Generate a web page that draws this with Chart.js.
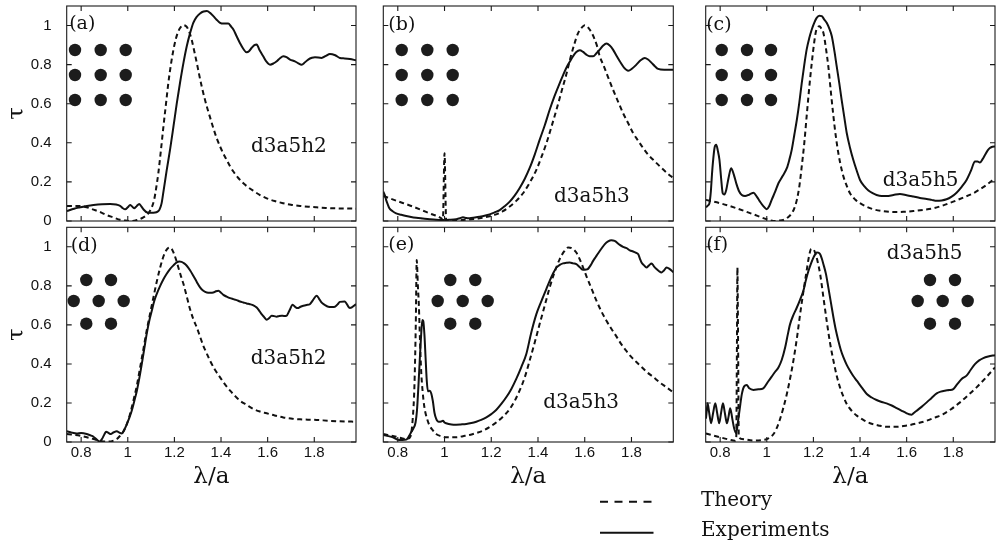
<!DOCTYPE html>
<html><head><meta charset="utf-8">
<script src="https://cdn.jsdelivr.net/npm/chart.js@4.4.1/dist/chart.umd.min.js"></script>
<style>
html,body{margin:0;padding:0;background:#fff;}
#wrap{position:relative;width:997px;height:545px;overflow:hidden;background:#fff;}
#wrap canvas{position:absolute;left:0;top:0;}
</style></head><body><div id="wrap"></div>
<script>
// ---------------- data ----------------
const xTickValues = [0.8, 1, 1.2, 1.4, 1.6, 1.8];
const xTickLabels = ['0.8', '1', '1.2', '1.4', '1.6', '1.8'];
const yTickValues = [0, 0.2, 0.4, 0.6, 0.8, 1];
const yTickLabels = ['0', '0.2', '0.4', '0.6', '0.8', '1'];
const panelLabels = ['(a)', '(b)', '(c)', '(d)', '(e)', '(f)'];
const sampleNames = ['d3a5h2', 'd3a5h3', 'd3a5h5', 'd3a5h2', 'd3a5h3', 'd3a5h5'];
const legendLabels = ['Theory', 'Experiments'];
const xAxisTitle = 'λ/a';
const yAxisTitle = 'τ';

// (a)
const aExpX = [0.739,0.77,0.796,0.825,0.853,0.89,0.924,0.95,0.967,0.978,0.989,1.0,1.01,1.018,1.027,1.038,1.049,1.058,1.067,1.084,1.1,1.117,1.128,1.136,1.145,1.153,1.167,1.182,1.196,1.21,1.224,1.239,1.253,1.267,1.281,1.296,1.31,1.325,1.339,1.353,1.367,1.381,1.396,1.41,1.431,1.443,1.453,1.467,1.481,1.496,1.51,1.52,1.531,1.543,1.553,1.565,1.581,1.595,1.61,1.625,1.639,1.653,1.667,1.681,1.696,1.717,1.73,1.746,1.76,1.774,1.79,1.803,1.831,1.85,1.867,1.89,1.91,1.93,1.953,1.979];
const aExpY = [0.051,0.063,0.07,0.077,0.082,0.086,0.087,0.084,0.077,0.066,0.06,0.07,0.082,0.075,0.065,0.076,0.087,0.075,0.06,0.043,0.042,0.043,0.048,0.058,0.09,0.15,0.26,0.37,0.484,0.6,0.706,0.81,0.894,0.96,1.014,1.045,1.062,1.072,1.074,1.065,1.048,1.03,1.014,1.01,1.01,0.995,0.98,0.945,0.911,0.88,0.863,0.868,0.885,0.9,0.903,0.875,0.843,0.815,0.8,0.806,0.817,0.833,0.843,0.838,0.826,0.817,0.808,0.8,0.812,0.826,0.835,0.838,0.834,0.845,0.855,0.848,0.834,0.832,0.829,0.822];
const aThX = [0.739,0.796,0.824,0.853,0.881,0.91,0.939,0.967,0.99,1.017,1.04,1.06,1.075,1.089,1.103,1.113,1.122,1.131,1.142,1.153,1.164,1.174,1.185,1.196,1.207,1.217,1.228,1.239,1.248,1.256,1.265,1.274,1.285,1.296,1.306,1.317,1.328,1.339,1.353,1.367,1.381,1.396,1.41,1.424,1.438,1.453,1.474,1.496,1.517,1.539,1.567,1.596,1.63,1.667,1.7,1.739,1.775,1.81,1.85,1.881,1.93,1.979];
const aThY = [0.077,0.077,0.07,0.058,0.046,0.03,0.018,0.006,0.002,0.0,0.005,0.014,0.025,0.04,0.07,0.108,0.17,0.244,0.36,0.484,0.6,0.706,0.8,0.877,0.935,0.971,0.993,1.002,0.998,0.988,0.963,0.928,0.87,0.809,0.75,0.689,0.635,0.586,0.53,0.475,0.425,0.381,0.345,0.313,0.282,0.253,0.22,0.193,0.172,0.154,0.133,0.116,0.102,0.091,0.083,0.077,0.073,0.07,0.067,0.065,0.064,0.063];

// (b)
const bExpX = [0.738,0.745,0.75,0.757,0.764,0.778,0.793,0.815,0.836,0.857,0.879,0.907,0.936,0.964,0.993,1.02,1.05,1.065,1.079,1.093,1.107,1.13,1.15,1.171,1.193,1.214,1.236,1.257,1.279,1.3,1.321,1.343,1.364,1.386,1.407,1.429,1.45,1.471,1.493,1.507,1.521,1.536,1.55,1.564,1.579,1.593,1.607,1.621,1.636,1.65,1.664,1.679,1.693,1.707,1.721,1.736,1.75,1.768,1.786,1.803,1.821,1.839,1.857,1.871,1.886,1.9,1.914,1.94,1.979];
const bExpY = [0.15,0.13,0.108,0.085,0.065,0.05,0.039,0.032,0.026,0.021,0.017,0.013,0.009,0.006,0.005,0.006,0.009,0.014,0.019,0.015,0.014,0.018,0.022,0.027,0.034,0.044,0.056,0.075,0.099,0.13,0.168,0.215,0.27,0.34,0.415,0.49,0.569,0.64,0.706,0.745,0.783,0.815,0.843,0.865,0.874,0.865,0.851,0.843,0.843,0.858,0.877,0.898,0.908,0.898,0.877,0.845,0.817,0.785,0.769,0.78,0.8,0.822,0.834,0.826,0.809,0.792,0.778,0.774,0.774];
const bThX = [0.738,0.793,0.864,0.936,0.986,0.993,1.0,1.007,1.036,1.079,1.15,1.221,1.25,1.279,1.307,1.336,1.364,1.393,1.414,1.436,1.457,1.479,1.5,1.521,1.54,1.557,1.571,1.586,1.6,1.611,1.621,1.632,1.643,1.654,1.664,1.679,1.693,1.707,1.721,1.743,1.764,1.786,1.807,1.829,1.85,1.871,1.893,1.921,1.95,1.979];
const bThY = [0.128,0.104,0.074,0.039,0.014,0.006,0.347,0.005,0.002,0.005,0.014,0.034,0.05,0.074,0.103,0.142,0.195,0.262,0.325,0.398,0.48,0.569,0.66,0.749,0.84,0.911,0.96,0.988,1.002,0.995,0.98,0.958,0.928,0.89,0.843,0.8,0.757,0.714,0.672,0.61,0.552,0.5,0.45,0.41,0.373,0.34,0.313,0.28,0.248,0.219];

// (c)
const cExpX = [0.739,0.743,0.748,0.754,0.76,0.765,0.769,0.776,0.783,0.79,0.797,0.804,0.811,0.818,0.826,0.836,0.847,0.858,0.869,0.88,0.893,0.907,0.921,0.932,0.943,0.957,0.971,0.986,1.0,1.01,1.021,1.036,1.05,1.068,1.086,1.096,1.107,1.118,1.129,1.14,1.15,1.161,1.171,1.182,1.193,1.204,1.214,1.225,1.236,1.246,1.257,1.268,1.279,1.29,1.3,1.311,1.321,1.332,1.343,1.357,1.371,1.386,1.4,1.418,1.436,1.454,1.471,1.493,1.514,1.543,1.571,1.6,1.629,1.657,1.686,1.707,1.729,1.75,1.771,1.793,1.814,1.836,1.857,1.875,1.893,1.904,1.914,1.925,1.936,1.947,1.957,1.968,1.979];
const cExpY = [0.07,0.074,0.08,0.091,0.15,0.24,0.3,0.375,0.39,0.36,0.313,0.22,0.142,0.135,0.159,0.22,0.27,0.24,0.193,0.155,0.133,0.128,0.133,0.14,0.145,0.125,0.099,0.075,0.06,0.075,0.108,0.15,0.193,0.23,0.27,0.31,0.364,0.44,0.518,0.61,0.706,0.8,0.877,0.935,0.98,1.015,1.039,1.05,1.048,1.032,1.014,0.985,0.945,0.87,0.791,0.705,0.621,0.535,0.45,0.375,0.313,0.257,0.21,0.178,0.156,0.142,0.133,0.128,0.128,0.133,0.138,0.132,0.125,0.118,0.113,0.108,0.103,0.105,0.111,0.125,0.145,0.175,0.21,0.255,0.304,0.305,0.299,0.315,0.338,0.36,0.373,0.38,0.381];
const cThX = [0.739,0.8,0.871,0.943,1.0,1.029,1.05,1.071,1.09,1.107,1.118,1.129,1.14,1.15,1.161,1.171,1.182,1.193,1.203,1.211,1.218,1.226,1.234,1.243,1.253,1.264,1.275,1.286,1.296,1.307,1.318,1.329,1.343,1.357,1.379,1.4,1.429,1.457,1.5,1.543,1.586,1.629,1.671,1.714,1.757,1.8,1.843,1.886,1.914,1.943,1.979];
const cThY = [0.108,0.091,0.065,0.034,0.009,0.0,0.002,0.005,0.018,0.039,0.065,0.108,0.18,0.279,0.4,0.535,0.68,0.809,0.91,0.971,0.99,0.997,0.985,0.962,0.89,0.791,0.66,0.535,0.435,0.347,0.28,0.227,0.18,0.142,0.11,0.091,0.073,0.06,0.05,0.046,0.047,0.051,0.057,0.065,0.08,0.099,0.12,0.142,0.162,0.185,0.219];

// (d)
const dExpX = [0.739,0.76,0.781,0.8,0.824,0.84,0.853,0.867,0.879,0.889,0.9,0.907,0.917,0.927,0.94,0.953,0.964,0.974,0.986,0.996,1.007,1.017,1.028,1.039,1.05,1.06,1.071,1.081,1.092,1.103,1.113,1.124,1.139,1.153,1.167,1.181,1.196,1.21,1.221,1.231,1.242,1.253,1.267,1.281,1.296,1.31,1.324,1.339,1.353,1.367,1.378,1.389,1.4,1.41,1.424,1.439,1.453,1.467,1.481,1.496,1.51,1.524,1.539,1.553,1.564,1.574,1.585,1.596,1.607,1.617,1.628,1.639,1.65,1.66,1.67,1.681,1.694,1.707,1.718,1.729,1.741,1.753,1.767,1.781,1.795,1.81,1.82,1.831,1.845,1.86,1.875,1.889,1.9,1.91,1.93,1.953,1.979];
const dExpY = [0.055,0.048,0.044,0.046,0.041,0.034,0.027,0.012,0.003,0.015,0.04,0.053,0.047,0.041,0.05,0.055,0.048,0.044,0.065,0.092,0.125,0.16,0.21,0.263,0.33,0.399,0.48,0.553,0.62,0.672,0.72,0.758,0.8,0.834,0.862,0.886,0.905,0.92,0.925,0.923,0.915,0.903,0.88,0.852,0.82,0.792,0.775,0.766,0.765,0.766,0.772,0.775,0.765,0.754,0.745,0.737,0.732,0.727,0.72,0.715,0.71,0.706,0.7,0.689,0.672,0.655,0.64,0.626,0.635,0.647,0.645,0.642,0.646,0.647,0.646,0.647,0.675,0.703,0.692,0.686,0.693,0.698,0.702,0.706,0.728,0.749,0.735,0.715,0.702,0.693,0.692,0.693,0.705,0.718,0.72,0.686,0.706];
const dThX = [0.739,0.796,0.853,0.88,0.896,0.92,0.939,0.953,0.967,0.982,0.996,1.01,1.024,1.039,1.053,1.067,1.081,1.096,1.11,1.124,1.139,1.15,1.16,1.17,1.179,1.188,1.196,1.207,1.217,1.228,1.239,1.253,1.267,1.281,1.296,1.31,1.324,1.339,1.353,1.374,1.396,1.417,1.439,1.46,1.481,1.51,1.539,1.567,1.596,1.63,1.667,1.7,1.739,1.78,1.81,1.86,1.91,1.979];
const dThY = [0.041,0.032,0.015,0.006,0.003,0.002,0.007,0.015,0.032,0.055,0.092,0.145,0.212,0.29,0.382,0.476,0.57,0.66,0.741,0.82,0.894,0.94,0.971,0.99,0.997,0.99,0.971,0.935,0.894,0.85,0.809,0.745,0.681,0.63,0.587,0.54,0.493,0.453,0.416,0.37,0.331,0.295,0.263,0.236,0.212,0.19,0.169,0.156,0.147,0.136,0.126,0.12,0.116,0.114,0.113,0.109,0.106,0.104];

// (e)
const eExpX = [0.738,0.76,0.779,0.807,0.82,0.836,0.848,0.857,0.867,0.876,0.882,0.888,0.894,0.9,0.905,0.909,0.914,0.919,0.924,0.929,0.936,0.943,0.95,0.957,0.964,0.975,0.986,0.993,1.0,1.007,1.03,1.05,1.07,1.093,1.115,1.136,1.157,1.179,1.2,1.221,1.243,1.264,1.286,1.307,1.329,1.35,1.371,1.393,1.407,1.421,1.436,1.45,1.464,1.479,1.493,1.507,1.521,1.536,1.55,1.564,1.579,1.593,1.607,1.614,1.625,1.636,1.647,1.657,1.671,1.686,1.7,1.714,1.728,1.75,1.764,1.779,1.793,1.807,1.818,1.829,1.836,1.843,1.854,1.864,1.875,1.886,1.896,1.907,1.918,1.929,1.94,1.95,1.964,1.979];
const eExpY = [0.036,0.03,0.024,0.01,0.01,0.012,0.03,0.05,0.07,0.1,0.16,0.28,0.42,0.55,0.625,0.62,0.55,0.43,0.314,0.26,0.262,0.25,0.21,0.15,0.12,0.104,0.105,0.109,0.1,0.096,0.09,0.089,0.09,0.092,0.097,0.104,0.113,0.126,0.143,0.164,0.195,0.229,0.272,0.323,0.385,0.451,0.56,0.655,0.7,0.741,0.785,0.826,0.862,0.894,0.907,0.915,0.918,0.92,0.915,0.911,0.895,0.882,0.884,0.887,0.905,0.928,0.948,0.966,0.99,1.014,1.028,1.034,1.03,1.01,1.0,0.993,0.982,0.976,0.97,0.962,0.94,0.92,0.905,0.894,0.905,0.915,0.9,0.886,0.875,0.869,0.88,0.894,0.886,0.87];
const eThX = [0.738,0.793,0.836,0.85,0.857,0.864,0.871,0.877,0.881,0.886,0.89,0.895,0.9,0.907,0.914,0.925,0.936,0.95,0.964,0.985,1.007,1.05,1.079,1.107,1.136,1.164,1.193,1.221,1.25,1.279,1.3,1.321,1.343,1.364,1.386,1.407,1.429,1.45,1.471,1.493,1.511,1.529,1.546,1.564,1.579,1.593,1.607,1.621,1.636,1.65,1.671,1.693,1.714,1.736,1.757,1.779,1.8,1.821,1.843,1.864,1.893,1.921,1.95,1.979];
const eThY = [0.041,0.027,0.015,0.02,0.041,0.12,0.28,0.6,0.932,0.8,0.706,0.52,0.365,0.25,0.177,0.12,0.084,0.06,0.041,0.03,0.024,0.024,0.03,0.036,0.046,0.058,0.077,0.1,0.13,0.169,0.21,0.263,0.33,0.416,0.51,0.604,0.7,0.792,0.87,0.937,0.975,0.997,0.992,0.971,0.935,0.894,0.85,0.809,0.765,0.724,0.67,0.621,0.58,0.54,0.5,0.465,0.435,0.41,0.385,0.36,0.333,0.305,0.28,0.254];

// (f)
const fExpX = [0.739,0.743,0.746,0.753,0.761,0.77,0.779,0.787,0.796,0.804,0.812,0.82,0.829,0.836,0.843,0.852,0.86,0.869,0.876,0.884,0.893,0.903,0.914,0.925,0.943,0.964,0.985,1.006,1.021,1.036,1.05,1.064,1.079,1.09,1.1,1.114,1.129,1.143,1.157,1.168,1.179,1.19,1.2,1.207,1.214,1.221,1.229,1.236,1.243,1.254,1.264,1.275,1.286,1.296,1.307,1.318,1.329,1.343,1.357,1.371,1.386,1.407,1.429,1.45,1.471,1.493,1.514,1.536,1.557,1.579,1.6,1.61,1.621,1.632,1.643,1.664,1.686,1.707,1.729,1.746,1.764,1.782,1.8,1.818,1.836,1.857,1.875,1.893,1.911,1.929,1.95,1.979];
const fExpY = [0.12,0.165,0.198,0.15,0.096,0.15,0.198,0.15,0.096,0.15,0.198,0.15,0.096,0.13,0.173,0.12,0.07,0.045,0.1,0.17,0.245,0.285,0.292,0.275,0.267,0.27,0.275,0.31,0.335,0.36,0.382,0.42,0.485,0.55,0.604,0.65,0.689,0.73,0.775,0.83,0.877,0.915,0.945,0.96,0.971,0.97,0.962,0.94,0.911,0.86,0.792,0.715,0.638,0.575,0.519,0.47,0.433,0.395,0.365,0.338,0.314,0.28,0.246,0.228,0.215,0.205,0.198,0.187,0.174,0.16,0.147,0.142,0.14,0.15,0.16,0.18,0.203,0.226,0.249,0.258,0.263,0.266,0.271,0.298,0.323,0.34,0.37,0.399,0.418,0.43,0.438,0.445];
const fThX = [0.739,0.8,0.84,0.864,0.869,0.872,0.874,0.877,0.88,0.893,0.943,0.98,1.0,1.015,1.029,1.043,1.057,1.071,1.086,1.1,1.114,1.129,1.143,1.157,1.171,1.181,1.19,1.198,1.207,1.218,1.229,1.243,1.257,1.271,1.286,1.3,1.314,1.329,1.343,1.364,1.386,1.414,1.443,1.479,1.514,1.557,1.6,1.643,1.686,1.721,1.757,1.793,1.829,1.864,1.9,1.94,1.979];
const fThY = [0.044,0.024,0.012,0.007,0.02,0.5,0.894,0.5,0.03,0.015,0.007,0.01,0.015,0.025,0.041,0.072,0.118,0.175,0.246,0.325,0.416,0.53,0.655,0.77,0.877,0.95,0.988,0.99,0.971,0.925,0.86,0.74,0.621,0.51,0.416,0.34,0.28,0.232,0.195,0.16,0.135,0.113,0.096,0.085,0.078,0.078,0.084,0.095,0.109,0.125,0.143,0.17,0.203,0.24,0.28,0.33,0.382];

// axis ranges
const X_MIN = 0.738, X_MAX = 1.979, Y_MIN = 0, Y_MAX = 1.1;

// ---------------- layout (pixels) ----------------
const W = 997, H = 545;
const panels = [
  {expX:aExpX, expY:aExpY, thX:aThX, thY:aThY, box:{l:66.7,t:6,r:356,b:221}, left:true, bottom:false,
   lab:[2.5,18], nm:[184.3,141], dots:[[8.3,44],[34,44],[59,44],[8.3,69],[34,69],[59,69],[8.3,94],[34,94],[59,94]]},
  {expX:bExpX, expY:bExpY, thX:bThX, thY:bThY, box:{l:383.3,t:6,r:673.3,b:221}, left:false, bottom:false,
   lab:[5,19], nm:[170.7,191], dots:[[18.4,44],[44,44],[69.4,44],[18.4,69],[44,69],[69.4,69],[18.4,94],[44,94],[69.4,94]]},
  {expX:cExpX, expY:cExpY, thX:cThX, thY:cThY, box:{l:705.7,t:6,r:995,b:221}, left:false, bottom:false,
   lab:[0.5,19], nm:[177,175], dots:[[16,44],[41.3,44],[65.3,44],[16,69],[41.3,69],[65.3,69],[16,94],[41.3,94],[65.3,94]]},
  {expX:dExpX, expY:dExpY, thX:dThX, thY:dThY, box:{l:66.7,t:227.3,r:356,b:442}, left:true, bottom:true,
   lab:[4,18.5], nm:[184,131.7], dots:[[19.6,52.7],[44.3,52.7],[7,73.7],[32,73.7],[57,73.7],[19.6,96.4],[44.3,96.4]]},
  {expX:eExpX, expY:eExpY, thX:eThX, thY:eThY, box:{l:383.3,t:227.3,r:673.3,b:442}, left:false, bottom:true,
   lab:[5,18], nm:[160,175.2], dots:[[67,52.7],[92,52.7],[54.4,73.7],[79.4,73.7],[104.4,73.7],[67,96.4],[92,96.4]]},
  {expX:fExpX, expY:fExpY, thX:fThX, thY:fThY, box:{l:705.7,t:227.3,r:995,b:442}, left:false, bottom:true,
   lab:[0.5,18], nm:[181,26.7], dots:[[224.3,52.7],[249.3,52.7],[212,73.7],[237,73.7],[262,73.7],[224.3,96.4],[249.3,96.4]], legend:true}
];

const INK = '#111';
const SERIF = '"DejaVu Serif", "Liberation Serif", serif';
const SANS = '"Liberation Sans", Arial, Helvetica, sans-serif';
const THEORY_DASH = [5, 3.5];

const decorPlugin = {
  id: 'decor',
  afterDatasetsDraw(chart, args, opts) {
    const p = opts.panel;
    const ctx = chart.ctx;
    const ca = chart.chartArea;
    const xs = chart.scales.x, ys = chart.scales.y;
    ctx.save();
    // frame
    ctx.strokeStyle = '#1a1a1a';
    ctx.lineWidth = 1.1;
    ctx.strokeRect(ca.left, ca.top, ca.right - ca.left, ca.bottom - ca.top);
    // inward ticks
    const TL = 5;
    ctx.beginPath();
    xTickValues.forEach(v => {
      const px = xs.getPixelForValue(v);
      ctx.moveTo(px, ca.bottom); ctx.lineTo(px, ca.bottom - TL);
      ctx.moveTo(px, ca.top); ctx.lineTo(px, ca.top + TL);
    });
    yTickValues.forEach(v => {
      const py = ys.getPixelForValue(v);
      ctx.moveTo(ca.left, py); ctx.lineTo(ca.left + TL, py);
      ctx.moveTo(ca.right, py); ctx.lineTo(ca.right - TL, py);
    });
    ctx.stroke();
    // lattice inset
    ctx.fillStyle = '#1c1c1c';
    p.dots.forEach(d => {
      ctx.beginPath();
      ctx.arc(ca.left + d[0], ca.top + d[1], 6.2, 0, Math.PI * 2);
      ctx.fill();
    });
    // texts
    ctx.fillStyle = INK;
    ctx.textBaseline = 'middle';
    ctx.textAlign = 'left';
    ctx.font = '19px ' + SERIF;
    ctx.fillText(p.label, ca.left + p.lab[0], ca.top + p.lab[1]);
    ctx.font = '20px ' + SERIF;
    ctx.fillText(p.name, ca.left + p.nm[0], ca.top + p.nm[1]);
    // legend
    if (p.legend) {
      const ds = chart.data.datasets;
      const rows = [{d: ds[1], y: 501.7, ty: 501}, {d: ds[0], y: 532.7, ty: 531}];
      rows.forEach(r => {
        ctx.beginPath();
        ctx.strokeStyle = r.d.borderColor;
        ctx.lineWidth = 2;
        ctx.setLineDash(r.d.borderDash && r.d.borderDash.length ? [8, 6.5] : []);
        ctx.moveTo(600, r.y); ctx.lineTo(653.5, r.y);
        ctx.stroke();
        ctx.setLineDash([]);
        ctx.fillStyle = INK;
        ctx.font = '20px ' + SERIF;
        ctx.fillText(r.d.label, 701, r.ty);
      });
    }
    ctx.restore();
  }
};

const wrap = document.getElementById('wrap');
panels.forEach((p, idx) => {
  const cv = document.createElement('canvas');
  cv.width = W; cv.height = H;
  cv.style.width = W + 'px'; cv.style.height = H + 'px';
  wrap.appendChild(cv);
  p.label = panelLabels[idx];
  p.name = sampleNames[idx];
  const yW = p.left ? p.box.l : 5;
  const padLeft = p.box.l - yW;
  const xH = p.bottom ? 49.2 : 4;
  new Chart(cv.getContext('2d'), {
    type: 'line',
    data: {
      datasets: [
        {label: legendLabels[1], data: p.expX.map((x, i) => ({x: x, y: p.expY[i]})),
         borderColor: INK, borderWidth: 2, pointRadius: 0, fill: false, cubicInterpolationMode: 'monotone'},
        {label: legendLabels[0], data: p.thX.map((x, i) => ({x: x, y: p.thY[i]})),
         borderColor: INK, borderWidth: 2, borderDash: THEORY_DASH, pointRadius: 0, fill: false, cubicInterpolationMode: 'monotone'}
      ]
    },
    options: {
      responsive: false, animation: false, devicePixelRatio: 1,
      events: [],
      layout: {padding: {left: padLeft, top: p.box.t, right: W - p.box.r, bottom: H - p.box.b - xH}},
      plugins: {legend: {display: false}, tooltip: {enabled: false}, decor: {panel: p}},
      scales: {
        x: {
          type: 'linear', min: X_MIN, max: X_MAX,
          grid: {display: false, drawTicks: false, tickLength: 0},
          border: {display: false},
          afterBuildTicks: s => { s.ticks = xTickValues.map(v => ({value: v})); },
          afterFit: s => { s.height = xH; s.paddingLeft = 0; s.paddingRight = 0; s.paddingTop = 0; s.paddingBottom = 0; },
          ticks: {display: p.bottom, autoSkip: false, maxRotation: 0, padding: 2, color: INK,
                  font: {family: SANS, size: 15}, callback: (v, i) => xTickLabels[i]},
          title: {display: p.bottom, text: xAxisTitle, color: INK, padding: {top: 0, bottom: 0},
                  font: {family: SERIF, size: 23}}
        },
        y: {
          type: 'linear', min: Y_MIN, max: Y_MAX,
          grid: {display: false, drawTicks: false, tickLength: 0},
          border: {display: false},
          afterBuildTicks: s => { s.ticks = yTickValues.map(v => ({value: v})); },
          afterFit: s => { s.width = yW; s.paddingLeft = 0; s.paddingRight = 0; s.paddingTop = 0; s.paddingBottom = 0; },
          ticks: {display: p.left, autoSkip: false, padding: 15, color: INK,
                  font: {family: SANS, size: 15}, callback: (v, i) => yTickLabels[i]},
          title: {display: p.left, text: yAxisTitle, color: INK, padding: {top: 3, bottom: 0},
                  font: {family: SERIF, size: 23}}
        }
      }
    },
    plugins: [decorPlugin]
  });
});
</script>
</body></html>
